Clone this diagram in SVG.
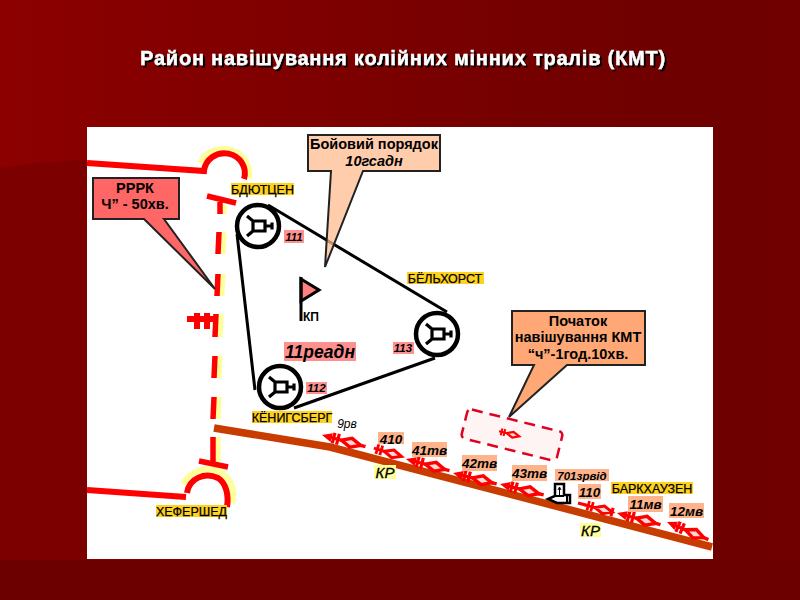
<svg xmlns="http://www.w3.org/2000/svg" width="800" height="600" viewBox="0 0 800 600">
<style>
text{font-family:"Liberation Sans",Arial,sans-serif;fill:#000}
.c{text-anchor:middle}
.b{font-weight:bold}
.i{font-style:italic;font-weight:bold}
.pl{font-size:12.500px;stroke:#000;stroke-width:.25px}
.kr{font-size:15px;font-style:italic;stroke:#000;stroke-width:.3px}
.ul{font-size:13.500px;font-style:italic;font-weight:bold}
.call{stroke:#222;stroke-width:2;stroke-linejoin:miter}
.co{font-size:14.500px;font-weight:bold}
.ring{fill:#fff;stroke:#000;stroke-width:4.500}
.red{fill:none;stroke:#f00;stroke-width:6}
.yel{fill:none;stroke:#ffff99;stroke-width:6}
.org{fill:#ffb38a}
.pnk{fill:#ff9090}
.ylw{fill:#ffd21e}
.pale{fill:#ffff99}
</style>
<defs>
<linearGradient id="bg" x1="0" y1="0" x2="1" y2="0"><stop offset="0" stop-color="#8c0000"/><stop offset=".85" stop-color="#6e0000"/><stop offset="1" stop-color="#700000"/></linearGradient>
<filter id="sh" x="-5%" y="-30%" width="110%" height="160%"><feDropShadow dx="2" dy="2" stdDeviation=".4" flood-color="#000" flood-opacity="1"/></filter>
<g id="tank"><path d="M-5-5H7V5H-5ZM7 0H13M14-3.500V3.500M-5-5L-11-10M-5 5L-11 10" fill="none" stroke="#000" stroke-width="3.200"/></g>
<g id="core"><path d="M12-5.500V5.500M16.500-5.500V5.500M8 0H21" stroke="#f00" stroke-width="3.200" fill="none"/><path d="M20 0L30-4.500L40 0L30 4.500Z" fill="#ffd8d8" stroke="#f00" stroke-width="3.400"/></g>
<g id="unit"><path d="M0 0L10-4.500V4.500Z" fill="#f00"/><use href="#core"/><path d="M39 0H45" stroke="#f00" stroke-width="3.500"/></g>
<g id="short"><use href="#core"/></g>
<g id="tail"><path d="M0 0H10" stroke="#f00" stroke-width="3.500"/><use href="#core"/><path d="M40-5V5" stroke="#f00" stroke-width="3.500"/></g>
</defs>
<rect width="800" height="600" fill="url(#bg)"/>
<path d="M0 168C40 162 70 160 90 160V600H0Z" fill="#7c0000"/>
<path d="M0 560H800V600H0Z" fill="#6c0000"/>
<text x="403" y="65" class="c b" font-size="20" letter-spacing=".78" style="fill:#fff;stroke:#fff;stroke-width:.3px" filter="url(#sh)">Район навішування колійних мінних тралів (КМТ)</text>
<rect x="87" y="127" width="626" height="432" fill="#fff"/>

<g id="connectors">
<path d="M255 390L237 234M268 205L447 312M294 408L435 358" fill="none" stroke="#000" stroke-width="3"/>
</g>

<g id="boundary-north">
<path class="yel" d="M200 163A26 25 0 0 1 249 178"/>
<path class="red" d="M87 163L204 171A20.500 20 0 1 1 244 179"/>
</g>
<g id="boundary-south">
<path class="yel" d="M183 484C190 472 205 466 218 471C230 476 236 490 232 503"/>
<path class="red" d="M87 490L186 497M187 493C189 478 205 472 218 478C226 483 229 495 227 507"/>
</g>
<g id="lane">
<path d="M225 205L224 214M224 232L223 254M223 274L222 296M221 314L220 337M220 356L219 378M219 397L218 419M218 437L218 462" stroke="#ffff99" stroke-width="5" fill="none"/>
<path d="M220 202L220 214M219 232L218 254M218 274L217 296M216 314L215 337M215 356L214 378M214 397L213 419M213 437L213 462M207 196L236 203M199 461L228 467" stroke="#f00" stroke-width="5.500" fill="none"/>
<path d="M187 319H215M197 313V329M207 313V329" stroke="#f00" stroke-width="6" fill="none"/>
</g>
<g id="road"><path d="M214 428L330 447L712 547" fill="none" stroke="#c83c00" stroke-width="7.500"/></g>

<g id="callout-rrrk">
<path class="call" fill="#ff6666" d="M93 178H179V219H164L215 289L144 219H93Z"/>
<text x="135" y="193" class="c co">РРРК</text>
<text x="135" y="209" class="c co">Ч” - 50хв.</text>
</g>
<g id="callout-order">
<path class="call" fill="#ffbb90" fill-opacity=".75" d="M308 135H440V171H363L325 267L331 171H308Z"/>
<text x="374" y="149" class="c co">Бойовий порядок</text>
<text x="374" y="166" class="c i" font-size="14.500">10гсадн</text>
</g>
<g id="callout-start">
<path class="call" fill="#ffa875" d="M512 311H645V365H567L509 417L534 365H512Z"/>
<text x="578" y="326" class="c co">Початок</text>
<text x="578" y="342" class="c co">навішування КМТ</text>
<text x="578" y="359" class="c co">“ч”-1год.10хв.</text>
</g>

<g id="node-111"><circle class="ring" cx="258" cy="226" r="21"/><use href="#tank" x="258" y="226"/><rect class="pnk" x="284" y="230" width="20" height="13"/><text x="294" y="241" class="c i" font-size="11.500">111</text></g>
<g id="node-112"><circle class="ring" cx="280" cy="387" r="21"/><use href="#tank" x="280" y="387"/><rect class="pnk" x="306" y="382" width="21" height="12"/><text x="316.500" y="392" class="c i" font-size="11.500">112</text></g>
<g id="node-113"><circle class="ring" cx="437" cy="334" r="21"/><use href="#tank" x="437" y="334"/><rect class="pnk" x="393" y="342" width="21" height="12"/><text x="403" y="352" class="c i" font-size="11.500">113</text></g>

<g id="kp"><path d="M301 279L319 290L301 301Z" fill="#ff8080" stroke="#000" stroke-width="3"/><path d="M301 277V321" stroke="#000" stroke-width="3"/><text x="311" y="321" class="c b" font-size="12" textLength="16" lengthAdjust="spacingAndGlyphs">КП</text></g>
<g id="regiment"><rect class="pnk" x="284" y="342" width="72" height="19"/><text x="320" y="358" class="c i" font-size="17.500">11реадн</text></g>

<g id="zone-start">
<rect x="-49" y="-15" width="98" height="30" rx="4" transform="translate(512 435) rotate(14)" fill="#fff4f4" stroke="#e00020" stroke-width="2.500" stroke-dasharray="11 7"/>
<use href="#short" transform="translate(494 430) rotate(14) scale(.65)"/>
</g>

<g id="place-labels">
<rect class="ylw" x="231" y="183" width="63" height="12"/><text x="262.500" y="193.500" class="c pl">БДЮТЦЕН</text>
<rect class="ylw" x="252" y="411" width="80" height="12"/><text x="292" y="421.500" class="c pl">КЁНИГСБЕРГ</text>
<rect class="ylw" x="156" y="505" width="71" height="12"/><text x="191.500" y="515.500" class="c pl">ХЕФЕРШЕД</text>
<rect class="ylw" x="407" y="272" width="77" height="12"/><text x="445" y="282.500" class="c pl">БЁЛЬХОРСТ</text>
<rect class="ylw" x="611" y="482" width="82" height="12"/><text x="652" y="492.500" class="c pl">БАРКХАУЗЕН</text>
<rect class="pale" x="374" y="465" width="22" height="14"/><text x="385" y="477.500" class="c kr">КР</text>
<rect class="pale" x="580" y="523" width="21" height="14"/><text x="590.500" y="535.500" class="c kr">КР</text>
</g>

<g id="units">
<use href="#unit" transform="translate(322 435) rotate(15)"/>
<use href="#short" transform="translate(367 446) rotate(17) scale(.9)"/>
<use href="#unit" transform="translate(406 459) rotate(15)"/>
<use href="#unit" transform="translate(453 473) rotate(14)"/>
<use href="#unit" transform="translate(500 484) rotate(14)"/>
<use href="#tail" transform="translate(578 503) rotate(15) scale(.88)"/>
<use href="#unit" transform="translate(617 513) rotate(15)"/>
<use href="#unit" transform="translate(667 522) rotate(23)"/>
</g>

<g id="unit-labels">
<text x="347" y="428" class="c" font-size="12" style="font-style:italic">9рв</text>
<rect class="org" x="378" y="432" width="26" height="12"/><text x="391" y="443.500" class="c ul">410</text>
<rect class="org" x="412" y="442" width="35" height="15"/><text x="429.500" y="454.500" class="c ul">41тв</text>
<rect class="org" x="462" y="455" width="35" height="16"/><text x="479.500" y="467.500" class="c ul">42тв</text>
<rect class="org" x="512" y="465" width="35" height="16"/><text x="529.500" y="477.500" class="c ul">43тв</text>
<rect class="org" x="555" y="469" width="54" height="12"/><text x="582" y="480" class="c i" font-size="11.500">701зрвід</text>
<rect class="org" x="578" y="484" width="23" height="15"/><text x="589.500" y="496.500" class="c ul">110</text>
<rect class="org" x="628" y="496" width="35" height="16"/><text x="645.500" y="508.500" class="c ul">11мв</text>
<rect class="org" x="669" y="503" width="35" height="15"/><text x="686.500" y="515.500" class="c ul">12мв</text>
</g>

<g id="engineers-701">
<path d="M555 484H564V495H570V503H557L548 499L555 496Z" fill="#fff" stroke="#000" stroke-width="2.500"/>
<path d="M567 495V503M555 496H564" stroke="#000" stroke-width="2"/>
<path d="M559.500 496V488M558 490L559.500 487L561 490" fill="none" stroke="#000" stroke-width="1"/>
</g>
</svg>
